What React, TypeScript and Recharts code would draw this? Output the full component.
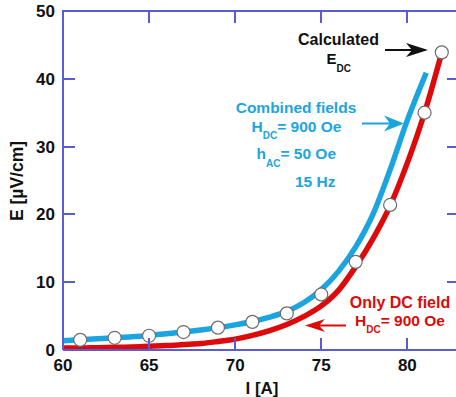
import React from 'react';
import { LineChart, Line, XAxis, YAxis } from 'recharts';

// Combined fields (H_DC = 900 Oe, h_AC = 50 Oe, 15 Hz)
const combinedI = [60, 61, 62, 63, 64, 65, 66, 67, 68, 69, 70, 71, 72, 73, 74, 75, 76, 77, 78, 79, 80, 81.1];
const combinedE = [1.35, 1.5, 1.65, 1.8, 1.95, 2.15, 2.4, 2.65, 2.95, 3.3, 3.7, 4.2, 4.85, 5.7, 7.0, 8.9, 11.6, 15.2, 20.0, 26.6, 33.9, 40.9];

// Only DC field (H_DC = 900 Oe)
const dcI = [60, 61, 62, 63, 64, 65, 66, 67, 68, 69, 70, 71, 72, 73, 74, 75, 76, 77, 78, 79, 80, 81, 82];
const dcE = [0.3, 0.3, 0.35, 0.4, 0.45, 0.55, 0.65, 0.8, 0.95, 1.25, 1.6, 2.15, 2.85, 3.75, 4.95, 6.5, 8.8, 12.3, 16.4, 21.3, 27.6, 35.0, 43.9];

// Calculated E_DC points
const calcI = [61, 63, 65, 67, 69, 71, 73, 75, 77, 79, 81, 82];
const calcE = [1.5, 1.8, 2.1, 2.65, 3.3, 4.15, 5.4, 8.2, 13.0, 21.4, 35.0, 43.9];

const xTicks = [60, 65, 70, 75, 80];
const xInnerTicks = [65, 70, 75, 80];
const yTicks = [0, 10, 20, 30, 40, 50];
const yInnerTicks = [10, 20, 30, 40];

const X_MIN = 60;
const X_MAX = 83;
const Y_MIN = 0;
const Y_MAX = 50;

const combinedData = combinedI.map((I, i) => ({ I, E: combinedE[i] }));
const dcData = dcI.map((I, i) => ({ I, E: dcE[i] }));
const calcData = calcI.map((I, i) => ({ I, E: calcE[i] }));

const AXIS = '#5b5bd6';
const CYAN = '#1ba5e0';
const RED = '#dc0a0a';
const FONT = '"Liberation Sans", Arial, Helvetica, sans-serif';
const TICK_LEN = 12;

// chart geometry (plot area) used for the frame and its inward tick marks
const CHART_W = 460;
const CHART_H = 397;
const MARGIN = { top: 11, right: 1, bottom: 17, left: 8 };
const X_AXIS_H = 30;
const Y_AXIS_W = 55;
const PLOT_L = MARGIN.left + Y_AXIS_W;
const PLOT_R = CHART_W - MARGIN.right;
const PLOT_T = MARGIN.top;
const PLOT_B = CHART_H - MARGIN.bottom - X_AXIS_H;
const px = (I: number) => Math.round(PLOT_L + ((I - X_MIN) / (X_MAX - X_MIN)) * (PLOT_R - PLOT_L));
const py = (E: number) => Math.round(PLOT_B - ((E - Y_MIN) / (Y_MAX - Y_MIN)) * (PLOT_B - PLOT_T));

let framePath = `M ${PLOT_L - 1} ${PLOT_T} L ${PLOT_R} ${PLOT_T} L ${PLOT_R} ${PLOT_B}`;
for (const t of xInnerTicks) {
  framePath += ` M ${px(t)} ${PLOT_B} L ${px(t)} ${PLOT_B - TICK_LEN}`;
  framePath += ` M ${px(t)} ${PLOT_T} L ${px(t)} ${PLOT_T + TICK_LEN}`;
}
for (const t of yInnerTicks) {
  framePath += ` M ${PLOT_L} ${py(t)} L ${PLOT_L + TICK_LEN} ${py(t)}`;
  framePath += ` M ${PLOT_R} ${py(t)} L ${PLOT_R - TICK_LEN} ${py(t)}`;
}

const tickStyle = { fill: '#111', fontSize: 17, fontWeight: 700, fontFamily: FONT };

const Dot = (props: any) => {
  const { cx, cy, index } = props;
  if (cx == null || cy == null) return <g key={index} />;
  return <circle key={index} cx={cx} cy={cy} r={6.5} fill="#fff" stroke="#6d6d6d" strokeWidth={1.2} />;
};

export default function App() {
  return (
    <div style={{ position: 'absolute', left: 0, top: 0, width: 456, height: 397, overflow: 'hidden', background: '#fff' }}>
      <LineChart width={CHART_W} height={CHART_H} margin={MARGIN}>
        <XAxis
          xAxisId="b"
          type="number"
          dataKey="I"
          domain={[X_MIN, X_MAX]}
          ticks={xTicks}
          interval={0}
          height={X_AXIS_H}
          tickSize={0}
          tickMargin={8.5}
          axisLine={{ stroke: AXIS, strokeWidth: 2 }}
          tickLine={false}
          tick={tickStyle}
        />
        <YAxis
          yAxisId="l"
          type="number"
          dataKey="E"
          domain={[Y_MIN, Y_MAX]}
          ticks={yTicks}
          interval={0}
          width={Y_AXIS_W}
          tickSize={0}
          tickMargin={8}
          axisLine={{ stroke: AXIS, strokeWidth: 2 }}
          tickLine={false}
          tick={tickStyle}
        />

        <Line
          xAxisId="b"
          yAxisId="l"
          data={combinedData}
          dataKey="E"
          type="monotone"
          stroke={CYAN}
          strokeWidth={5.5}
          dot={false}
          activeDot={false}
          isAnimationActive={false}
        />
        <Line
          xAxisId="b"
          yAxisId="l"
          data={dcData}
          dataKey="E"
          type="monotone"
          stroke={RED}
          strokeWidth={5.5}
          dot={false}
          activeDot={false}
          isAnimationActive={false}
        />
        <Line
          xAxisId="b"
          yAxisId="l"
          data={calcData}
          dataKey="E"
          stroke="none"
          dot={Dot}
          activeDot={false}
          isAnimationActive={false}
        />
      </LineChart>
      <svg
        width={456}
        height={397}
        style={{ position: 'absolute', left: 0, top: 0, pointerEvents: 'none' }}
        fontFamily={FONT}
        fontWeight={700}
      >
        {/* top and right sides of the frame, with inward tick marks on all sides */}
        <path d={framePath} fill="none" stroke={AXIS} strokeWidth={2} />

        {/* axis titles */}
        <text x={23} y={181} fontSize={17.5} fill="#111" textAnchor="middle" transform="rotate(-90 23 181)">
          E [µV/cm]
        </text>
        <text x={262} y={394} fontSize={17} fill="#111" textAnchor="middle">
          I [A]
        </text>

        {/* Calculated E_DC */}
        <text x={338.5} y={45} fontSize={16} fill="#111" textAnchor="middle">
          Calculated
        </text>
        <text x={326.5} y={63.5} fontSize={15} fill="#111">
          <tspan>E</tspan>
          <tspan dy={8} fontSize={10}>DC</tspan>
        </text>
        <line x1={385} y1={50} x2={414} y2={50} stroke="#111" strokeWidth={2} />
        <path d="M428,50 L406,43 L412,50 L406,57 Z" fill="#111" />

        {/* Combined fields */}
        <g fill={CYAN}>
          <text x={296} y={113} fontSize={15.5} textAnchor="middle">Combined fields</text>
          <text x={251.5} y={131.7} fontSize={15.5}>
            <tspan>H</tspan>
            <tspan dy={7} fontSize={10}>DC</tspan>
            <tspan dy={-7}>= 900 Oe</tspan>
          </text>
          <text x={256.5} y={159} fontSize={15.5}>
            <tspan>h</tspan>
            <tspan dy={8} fontSize={10}>AC</tspan>
            <tspan dy={-8}>= 50 Oe</tspan>
          </text>
          <text x={295} y={187.3} fontSize={15.5}>15 Hz</text>
        </g>
        <line x1={362} y1={123.5} x2={394} y2={123.5} stroke={CYAN} strokeWidth={2} />
        <path d="M404,123.5 L384,115.5 L390,123.5 L384,131.5 Z" fill={CYAN} />

        {/* Only DC field */}
        <g fill={RED}>
          <text x={400} y={308.3} fontSize={16} textAnchor="middle">Only DC field</text>
          <text x={355} y={326} fontSize={15.5}>
            <tspan>H</tspan>
            <tspan dy={7} fontSize={10}>DC</tspan>
            <tspan dy={-7}>= 900 Oe</tspan>
          </text>
        </g>
        <line x1={315} y1={325.5} x2={346} y2={325.5} stroke={RED} strokeWidth={2} />
        <path d="M305,325.5 L325,319 L319,325.5 L325,332 Z" fill={RED} />
      </svg>
    </div>
  );
}
